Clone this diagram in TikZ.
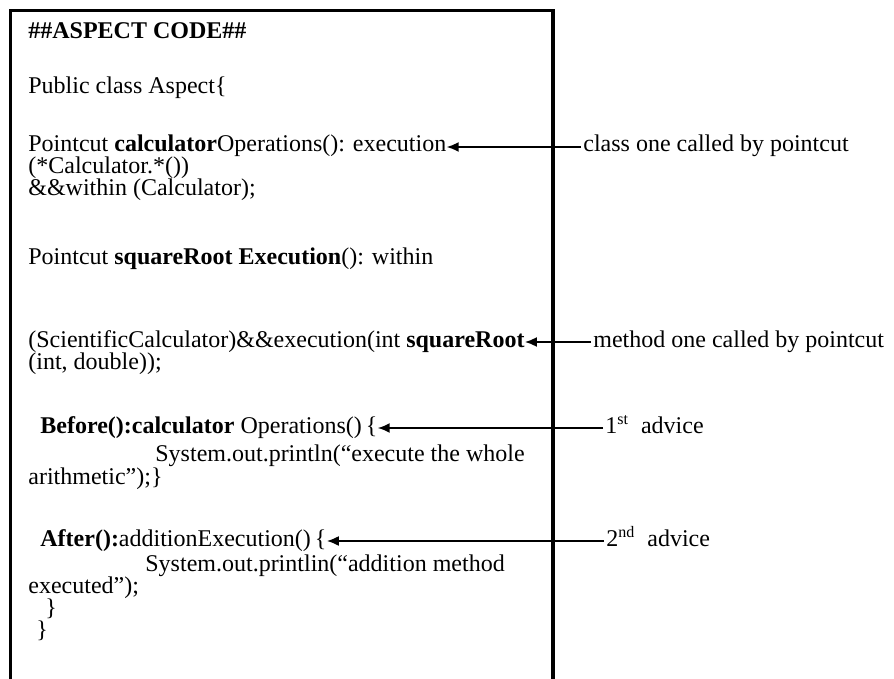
\documentclass[tikz,border=0pt]{standalone}
\usepackage{fontspec}
\setmainfont{Liberation Serif}
\usetikzlibrary{arrows.meta, positioning}

\begin{document}
\begin{tikzpicture}[
		x=0.5pt, y=-0.5pt,
		codeline/.style = {anchor=base west, inner sep=0pt, text height=0.65em, text depth=0.15em, font=\fontsize{12}{14}\selectfont},
		remark/.style = {anchor=base west, inner sep=1pt, text height=0.65em, text depth=0.15em, font=\fontsize{12}{14}\selectfont},
		pointer/.style = {-{Latex[length=6pt, width=5pt]}, line width=0.9pt}
	]
	\useasboundingbox (0,0) rectangle (894,679);

	% open frame round the code
	\draw[line width=1.7pt] (10.5,690) -- (10.5,10.5) -- (553,10.5) -- (553,690);

	\node[codeline] (title) at (28,39) {\textbf{\#\#ASPECT CODE\#\#}};
	\node[codeline] (public) at (28,94) {Public class Aspect\{};
	\node[codeline] (pcone) at (28,152) {Pointcut \textbf{calculator}Operations(): execution};
	\node[codeline] (calc) at (28,174) {(*Calculator.*())};
	\node[codeline] (within) at (28,196) {\&\&within (Calculator);};
	\node[codeline] (pctwo) at (28,264) {Pointcut \textbf{squareRoot Execution}(): within};
	\node[codeline] (sci) at (28,347) {(ScientificCalculator)\&\&execution(int \textbf{squareRoot}};
	\node[codeline] (intd) at (28,369) {(int, double));};
	\node[codeline] (before) at (40,433) {\textbf{Before():calculator} Operations()\,\{};
	\node[codeline] (printone) at (155,461) {System.out.println(“execute the whole};
	\node[codeline] (arith) at (28,484) {arithmetic”);\}};
	\node[codeline] (after) at (40,546) {\textbf{After():}additionExecution()\,\{};
	\node[codeline] (printtwo) at (145,571) {System.out.printlin(“addition method};
	\node[codeline] (executed) at (28,593) {executed”);};
	\node[codeline] (braceone) at (45,615) {\}};
	\node[codeline] (bracetwo) at (36,637) {\}};

	\node[remark] (lclass) at (581,152) {class one called by pointcut};
	\node[remark] (lmethod) at (591,347) {method one called by pointcut};
	\node[remark] (ladvone) at (603,433) {1\textsuperscript{st}~ advice};
	\node[remark] (ladvtwo) at (604,546) {2\textsuperscript{nd}~ advice};

	\draw[pointer] (lclass.west) -- (pcone.east);
	\draw[pointer] (lmethod.west) -- (sci.east);
	\draw[pointer] (ladvone.west) -- (before.east);
	\draw[pointer] (ladvtwo.west) -- (after.east);
\end{tikzpicture}
\end{document}
